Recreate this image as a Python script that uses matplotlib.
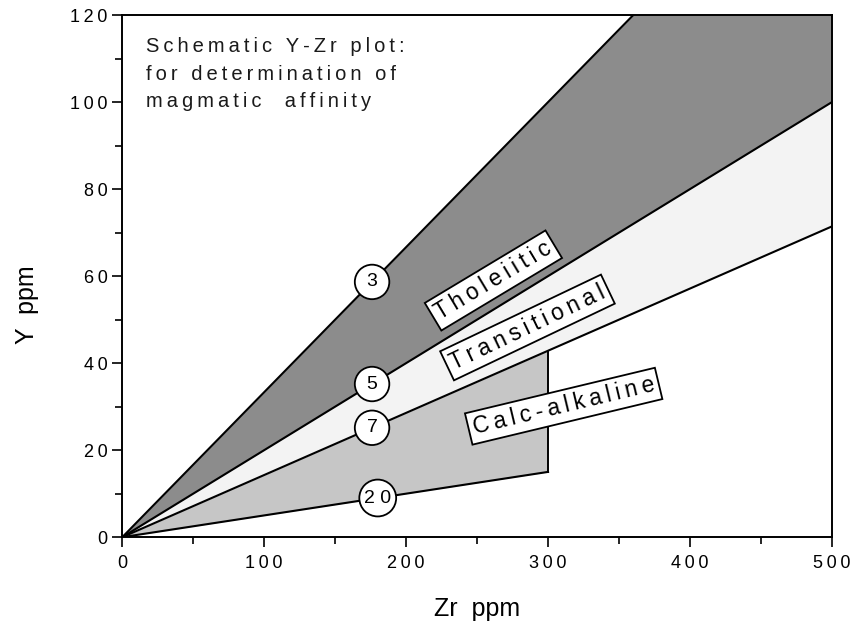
import numpy as np
import matplotlib.pyplot as plt
from matplotlib.ticker import MultipleLocator, FuncFormatter

plt.rcParams['font.family'] = ['Liberation Sans', 'DejaVu Sans']

# Zr/Y ratio lines
ratios = [3, 5, 7, 20]
ratio_labels = ["3", "5", "7", "2 0"]
label_zr = [176, 176, 176, 180]      # Zr where circled ratio labels sit
line_end_zr = [500, 500, 500, 300]   # where each ratio line stops

# fields
field_names = ["Tholeiitic", "Transitional", "Calc-alkaline"]
field_colors = ["#8c8c8c", "#f3f3f3", "#c6c6c6"]
calc_alk_max_zr = 300

field_text_zr = [261.5, 285.5, 311]
field_text_y = [59, 48.2, 30.1]
field_text_rot = [31, 25.5, 13.5]

title_lines = ["Schematic Y-Zr plot:", "for determination of", "magmatic  affinity"]


def spaced(s, gap="\u2009"):
    return gap.join(s)


fig = plt.figure(figsize=(8.55, 6.29), dpi=100)
ax = fig.add_axes([0.143, 0.146, 0.830, 0.830])

zr = np.linspace(0, 500, 501)
# tholeiitic: between ratio 3 and 5
ax.fill_between(zr, zr / 5, np.minimum(zr / 3, 120), color=field_colors[0], lw=0)
# transitional: between 5 and 7
ax.fill_between(zr, zr / 7, zr / 5, color=field_colors[1], lw=0)
# calc-alkaline: between 7 and 20, up to Zr 300
zc = zr[zr <= calc_alk_max_zr]
ax.fill_between(zc, zc / 20, zc / 7, color=field_colors[2], lw=0)

for r, end in zip(ratios, line_end_zr):
    x = np.array([0, end])
    ax.plot(x, x / r, color="black", lw=1.5, zorder=3)
ax.plot([calc_alk_max_zr, calc_alk_max_zr],
        [calc_alk_max_zr / 20, calc_alk_max_zr / 7], color="black", lw=1.4, zorder=3)

for r, lab, z in zip(ratios, ratio_labels, label_zr):
    pad = 0.45 if len(lab) == 1 else 0.25
    ax.text(z, z / r, lab, ha="center", va="center", fontsize=14, zorder=5,
            bbox=dict(boxstyle="circle,pad=%.2f" % pad, fc="white", ec="black", lw=1.3))

for name, x, y, rot in zip(field_names, field_text_zr, field_text_y, field_text_rot):
    ax.text(x, y, spaced(name), ha="center", va="center", rotation=rot, fontsize=16.5,
            rotation_mode="anchor", zorder=5,
            bbox=dict(boxstyle="square,pad=0.2", fc="white", ec="black", lw=1.3))

ax.text(0.033, 0.958, "\n".join(spaced(t) for t in title_lines),
        transform=ax.transAxes, ha="left", va="top", fontsize=14.5, linespacing=1.58,
        color="#1a1a1a")

ax.set_xlim(0, 500)
ax.set_ylim(0, 120)
ax.xaxis.set_major_locator(MultipleLocator(100))
ax.xaxis.set_minor_locator(MultipleLocator(50))
ax.yaxis.set_major_locator(MultipleLocator(20))
ax.yaxis.set_minor_locator(MultipleLocator(10))
ax.xaxis.set_major_formatter(FuncFormatter(lambda v, p: "\u2009".join(str(int(v)))))
ax.yaxis.set_major_formatter(FuncFormatter(lambda v, p: "\u2009".join(str(int(v)))))
ax.tick_params(which="both", direction="out", width=1.2, labelsize=13)
ax.tick_params(axis="x", which="major", pad=6)
ax.tick_params(which="major", length=7)
ax.tick_params(which="minor", length=5)
for s in ax.spines.values():
    s.set_linewidth(1.4)

ax.set_xlabel("Zr  ppm", fontsize=18)
ax.set_ylabel("Y  ppm", fontsize=18)
ax.xaxis.set_label_coords(0.5, -0.115)
ax.yaxis.set_label_coords(-0.118, 0.445)

fig.savefig("out.png", dpi=100)
